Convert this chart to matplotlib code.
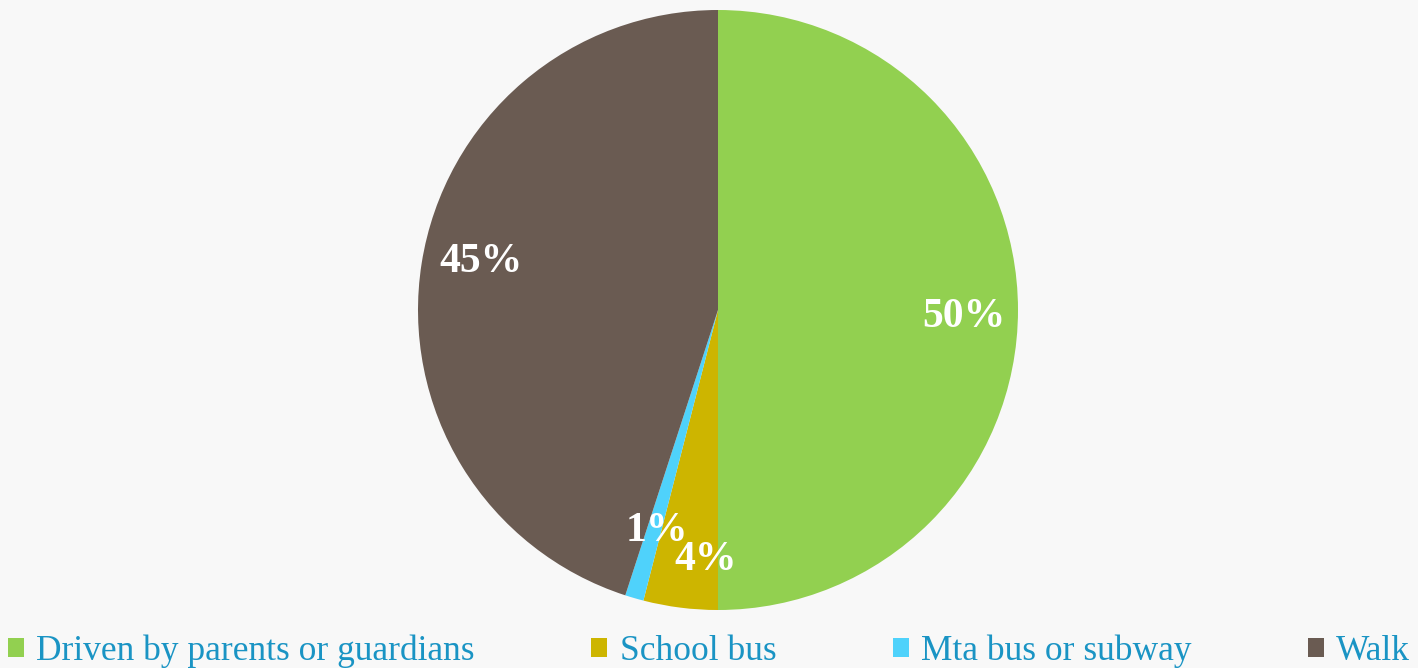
import numpy as np
import matplotlib
matplotlib.use("Agg")
import matplotlib.pyplot as plt
from matplotlib.transforms import offset_copy

categories = ["Driven by parents or guardians", "School bus", "Mta bus or subway", "Walk"]
values = [50, 4, 1, 45]
labels = ["50%", "4%", "1%", "45%"]
colors = ["#92d050", "#cdb500", "#4fd2fb", "#6a5b52"]

# label placement styling (radius fraction, angle shift in degrees)
label_r = [0.82, 0.82, 0.75, 0.81]
label_shift = [-0.7, 4.2, 0.5, -3.4]

W, H = 1418, 668
fig = plt.figure(figsize=(W / 100, H / 100), dpi=100)
fig.patch.set_facecolor("#f8f8f8")

cx, cy, R = 718, 310, 300
ax = fig.add_axes([(cx - R) / W, (H - cy - R) / H, 2 * R / W, 2 * R / H])
ax.set_facecolor("#f8f8f8")

wedges, _ = ax.pie(values, colors=colors, startangle=90, counterclock=False,
                   radius=1.0, wedgeprops=dict(linewidth=0))
ax.set_xlim(-1, 1)
ax.set_ylim(-1, 1)
ax.set_aspect("equal")
ax.axis("off")

lab_tr = offset_copy(ax.transData, fig=fig, x=0, y=-3, units="points")
for w, lab, r, sh in zip(wedges, labels, label_r, label_shift):
    mid = np.deg2rad((w.theta1 + w.theta2) / 2 + sh)
    ax.text(r * np.cos(mid), r * np.sin(mid), lab, ha="center", va="center",
            transform=lab_tr,
            fontsize=30, fontweight="bold", color="white", family="Liberation Serif")

leg = fig.legend(wedges, categories, loc="lower left",
                 bbox_to_anchor=(8 / W, 0.0, (W - 16) / W, 44 / H),
                 mode="expand", ncol=4, frameon=False,
                 prop=dict(family="Liberation Serif", size=25.5),
                 handlelength=0.45, handleheight=0.45, handletextpad=0.35,
                 borderaxespad=0, borderpad=0.0)
for t in leg.get_texts():
    t.set_color("#1a94c4")

fig.savefig("out.png", dpi=100, facecolor=fig.get_facecolor())
